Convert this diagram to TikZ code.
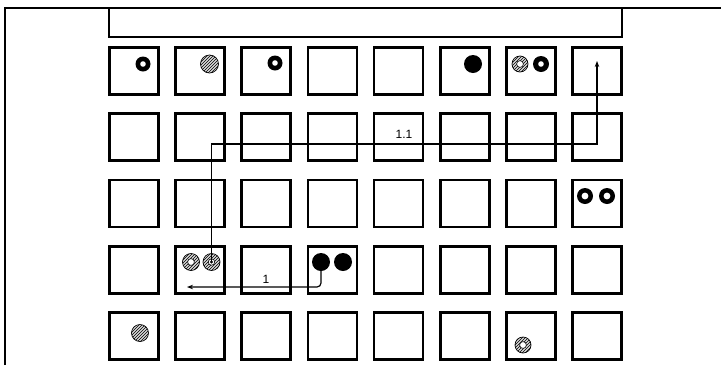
\documentclass[tikz,border=0pt]{standalone}
\usepackage{fontspec}
\setmainfont{Liberation Sans}
\usetikzlibrary{arrows.meta,patterns,calc}
\begin{document}
\begin{tikzpicture}[x=1pt,y=-1pt,
  cell/.style={draw,line width=2.8pt,minimum width=49pt,minimum height=47pt,inner sep=0pt},
  banner/.style={draw,line width=2.2pt,minimum width=513pt,minimum height=29pt,inner sep=0pt},
  ringb/.style={circle,fill=black,minimum size=15pt,inner sep=0pt,path picture={
    \fill[white] (path picture bounding box.center) circle (2.8pt);}},
  ringbig/.style={circle,fill=black,minimum size=16pt,inner sep=0pt,path picture={
    \fill[white] (path picture bounding box.center) circle (3.4pt);}},
  filled/.style={circle,fill=black,minimum size=18pt,inner sep=0pt},
  hatchbase/.style={circle,draw,line width=0.7pt,fill=gray!30,minimum size=17pt,inner sep=0pt},
  hatched/.style={hatchbase,path picture={
    \fill[pattern=north east lines] (path picture bounding box.south west) rectangle (path picture bounding box.north east);}},
  hatchring/.style={hatchbase,path picture={
    \fill[pattern=north east lines] (path picture bounding box.south west) rectangle (path picture bounding box.north east);
    \fill[white] (path picture bounding box.center) circle (3.4pt);
    \draw[line width=0.6pt] (path picture bounding box.center) circle (3.4pt);}},
  hatchdot/.style={hatchbase,path picture={
    \fill[pattern=north east lines] (path picture bounding box.south west) rectangle (path picture bounding box.north east);
    \fill[white] (path picture bounding box.center) circle (3.2pt);
    \draw[line width=0.6pt] (path picture bounding box.center) circle (3.2pt);
    \fill[black] (path picture bounding box.center) circle (1.7pt);}},
  conn/.style={line width=1.2pt},
  tip/.style={-{Stealth[length=6pt,width=4.5pt]}},
  lbl/.style={font=\fontsize{12}{14}\selectfont,inner sep=0pt}
]
\useasboundingbox (0,0) rectangle (721,365);
% outer frame
\coordinate (fbl) at (5,365);
\coordinate (ftl) at (5,8);
\coordinate (ftr) at (721,8);
\draw[line width=2pt] (fbl) -- (ftl) -- (ftr);
% banner
\node[banner] (banner) at (365.5,22.5) {};
% grid
\foreach \r in {1,...,5}
  \foreach \c in {1,...,8}
    \node[cell] (c-\r-\c) at ({134+66.14*(\c-1)},{71+66.25*(\r-1)}) {};
% row 1 symbols
\node[ringb] (s11) at (143,64) {};
\node[hatched,minimum size=18pt] (s12) at (209.5,64) {};
\node[ringb] (s13) at (275,63) {};
\node[filled] (s16) at (473,64) {};
\node[hatchring,minimum size=16pt] (s17a) at (520,64) {};
\node[ringb,minimum size=16pt] (s17b) at (541,64) {};
% row 3 symbols
\node[ringbig] (s38a) at (585,196) {};
\node[ringbig] (s38b) at (607,196) {};
% row 4 symbols
\node[hatchring] (s42a) at (191,262) {};
\node[hatchdot] (s42b) at (211.5,262) {};
\node[filled] (s44a) at (321,262) {};
\node[filled] (s44b) at (343,262) {};
% row 5 symbols
\node[hatched] (s51) at (140,333) {};
\node[hatchring,minimum size=16pt] (s57) at (523,345) {};
% connector 1.1
\coordinate (k1) at (211.5,144);
\coordinate (k2) at (597,144);
\coordinate (t11) at (597,61);
\draw[conn,tip] (s42b.center) -- (k1) -- (k2) -- (t11);
\node[lbl] (l11) at (404,134) {1.1};
% connector 1
\coordinate (k3) at (321,287);
\coordinate (t1) at (187,287);
\draw[conn,tip,rounded corners=4pt] (s44a.center) -- (k3) -- (t1);
\node[lbl] (l1) at (266,279) {1};
\end{tikzpicture}
\end{document}
